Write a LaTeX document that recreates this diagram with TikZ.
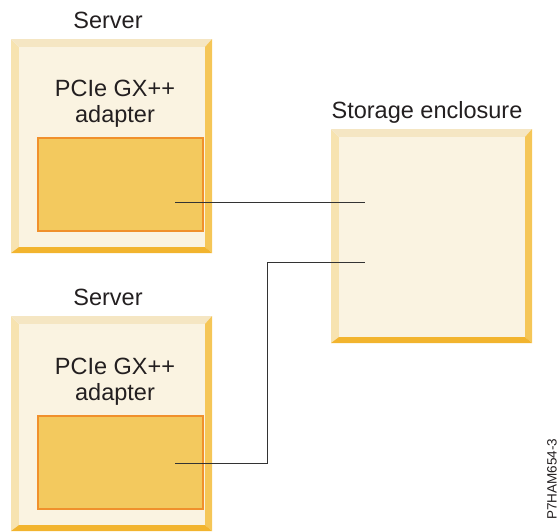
\documentclass[tikz,border=0pt]{standalone}
\usepackage{fontspec}
\setmainfont{Liberation Sans}
\definecolor{face}{HTML}{FAF3E1}
\definecolor{bevL}{HTML}{F7E3B0}
\definecolor{bevT}{HTML}{F5E6C3}
\definecolor{bevR}{HTML}{F5C657}
\definecolor{bevB}{HTML}{F2B42E}
\definecolor{adfill}{HTML}{F3C95E}
\definecolor{adedge}{HTML}{F0902C}
\definecolor{ink}{HTML}{231F20}
\definecolor{wire}{HTML}{333333}
% #1..#4 outer box x1,y1,x2,y2 ; #5 node name
\newcommand\bevelbox[5]{%
  \pgfmathsetmacro\ixa{#1+8}\pgfmathsetmacro\iya{#2+8}%
  \pgfmathsetmacro\ixb{#3-7}\pgfmathsetmacro\iyb{#4-6}%
  \fill[bevL] (#1,#2) -- (\ixa,\iya) -- (\ixa,\iyb) -- (#1,#4) -- cycle;
  \fill[bevT] (#1,#2) -- (#3,#2) -- (\ixb,\iya) -- (\ixa,\iya) -- cycle;
  \fill[bevR] (#3,#2) -- (#3,#4) -- (\ixb,\iyb) -- (\ixb,\iya) -- cycle;
  \fill[bevB] (#1,#4) -- (#3,#4) -- (\ixb,\iyb) -- (\ixa,\iyb) -- cycle;
  \pgfmathsetmacro\fw{\ixb-\ixa}\pgfmathsetmacro\fh{\iyb-\iya}%
  \node[facebox, minimum width=\fw pt, minimum height=\fh pt]
    (#5) at ({(\ixa+\ixb)/2},{(\iya+\iyb)/2}) {};
}
\tikzset{
  facebox/.style={rectangle, fill=face, draw=none, inner sep=0pt},
  adapterbox/.style={rectangle, fill=adfill, draw=adedge, line width=2pt,
    minimum width=165pt, minimum height=93pt, inner sep=0pt},
  lbl/.style={text=ink, font=\fontsize{23.5}{26}\selectfont, inner sep=0pt,
    align=center},
  tag/.style={text=ink, font=\fontsize{13.5}{15}\selectfont, inner sep=0pt},
  cable/.style={draw=wire, line width=1pt}
}
\begin{document}
\begin{tikzpicture}[x=1pt, y=-1pt]
\useasboundingbox (0,0) rectangle (559,531);
% top server
\bevelbox{11}{39}{212}{253}{srvA}
\node[lbl] (srvAlbl) at (108,20) {Server};
\node[lbl] (adAlbl) at (115,103.5) {PCIe GX++\\adapter};
\node[adapterbox] (adA) at (120,184) {};
% bottom server
\bevelbox{11}{316}{212}{531}{srvB}
\node[lbl] (srvBlbl) at (108,297) {Server};
\node[lbl] (adBlbl) at (115,381.5) {PCIe GX++\\adapter};
\node[adapterbox] (adB) at (120,462) {};
% storage enclosure
\bevelbox{331}{129}{532}{343}{stor}
\node[lbl] (storlbl) at (427,112) {Storage enclosure};
% connectors
\coordinate (pA) at (175,202);
\coordinate (qA) at (365,202);
\coordinate (pB) at (175,463);
\coordinate (kB) at (267,463);
\coordinate (qB) at (365,262);
\draw[cable] (pA) -- (qA);
\draw[cable] (pB) -- (kB) |- (qB);
% figure tag
\node[tag, rotate=90] (figtag) at (552,479) {P7HAM654-3};
\end{tikzpicture}
\end{document}
